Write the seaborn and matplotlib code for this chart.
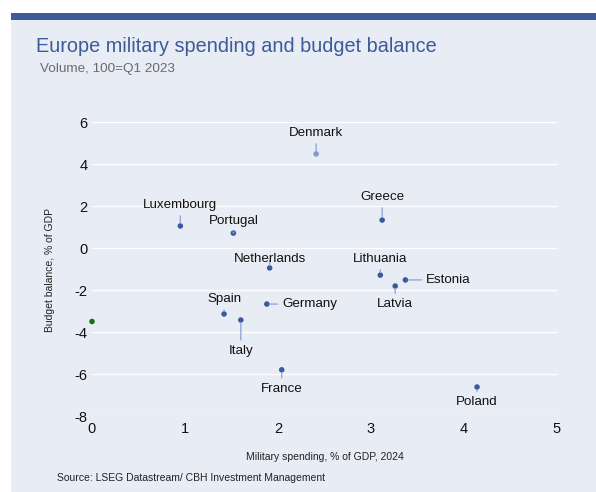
"""Europe military spending vs budget balance scatter."""
import matplotlib

matplotlib.use("Agg")
import matplotlib.pyplot as plt
import pandas as pd
import seaborn as sns
from matplotlib.patches import Rectangle

countries = ["", "Luxembourg", "Portugal", "Netherlands", "Spain", "Italy", "Germany",
             "France", "Denmark", "Greece", "Lithuania", "Estonia", "Latvia", "Poland"]
military_spending = [0.0, 0.95, 1.52, 1.91, 1.42, 1.60, 1.88,
                     2.04, 2.41, 3.12, 3.10, 3.37, 3.26, 4.14]
budget_balance = [-3.5, 1.05, 0.71, -0.95, -3.14, -3.43, -2.67,
                  -5.8, 4.48, 1.33, -1.29, -1.52, -1.81, -6.62]
groups = ["other", "main", "main", "main", "main", "main", "main",
          "main", "highlight", "main", "main", "main", "main", "main"]

# label offsets in points from each point, plus alignment
label_offsets = {
    "Luxembourg": (0, 15, "center"), "Portugal": (0, 8.5, "center"),
    "Netherlands": (0, 6.5, "center"), "Spain": (0, 10.5, "center"),
    "Italy": (0, -22, "center"), "Germany": (11, 0, "left"),
    "France": (0, -13.5, "center"), "Denmark": (0, 15, "center"),
    "Greece": (0, 16.5, "center"), "Lithuania": (0, 11.5, "center"),
    "Estonia": (15, 0, "left"), "Latvia": (0, -13, "center"),
    "Poland": (0, -11, "center"),
}

BG = "#e8ecf5"
BLUE = "#3a5aa0"
palette = {"main": BLUE, "highlight": "#7f9cd2", "other": "#167016"}

sns.set_theme(style="darkgrid", rc={
    "axes.facecolor": BG, "grid.color": "white", "grid.linewidth": 1.0,
    "axes.unicode_minus": False,
})
plt.rcParams["font.family"] = ["Liberation Sans", "DejaVu Sans"]

df = pd.DataFrame({"country": countries, "x": military_spending,
                   "y": budget_balance, "group": groups})

fig = plt.figure(figsize=(5.96, 4.92), dpi=100)
fig.patch.set_facecolor("white")
fig.patches.append(Rectangle((11 / 596, 0), 1, 1 - 13 / 492, transform=fig.transFigure,
                             facecolor=BG, edgecolor="none", zorder=-2))
fig.patches.append(Rectangle((11 / 596, 1 - 20 / 492), 1, 7 / 492, transform=fig.transFigure,
                             facecolor="#3d5a99", edgecolor="none", zorder=-1))

ax = fig.add_axes([92 / 596, 1 - 416 / 492, 465 / 596, 294 / 492])
sns.scatterplot(data=df, x="x", y="y", hue="group", palette=palette, s=16,
                edgecolor="none", legend=False, ax=ax, zorder=3, clip_on=False)

for _, row in df.iterrows():
    if row["country"] not in label_offsets:
        continue
    dx, dy, ha = label_offsets[row["country"]]
    ax.annotate(row["country"], (row["x"], row["y"]), xytext=(dx, dy),
                textcoords="offset points", ha=ha, va="center", fontsize=9.6,
                color="#111111",
                arrowprops=dict(arrowstyle="-", color="#93a9d6", lw=1,
                                shrinkA=1, shrinkB=2))

ax.set_xlim(0, 5)
ax.set_ylim(-8, 6)
ax.set_xticks(range(0, 6))
ax.set_yticks(range(-8, 7, 2))
ax.grid(axis="x", visible=False)
ax.tick_params(axis="both", labelsize=10.5, colors="#111111", length=0)
ax.tick_params(axis="y", pad=3)
ax.tick_params(axis="x", pad=4)
ax.set_xlabel("")
ax.set_ylabel("")
for s in ax.spines.values():
    s.set_visible(False)

fig.text(325 / 596, 1 - 457 / 492, "Military spending, % of GDP, 2024", ha="center",
         va="center", fontsize=7.5, color="#222222")
fig.text(50 / 596, 1 - 270 / 492, "Budget balance, % of GDP", ha="center", va="center",
         rotation=90, fontsize=7.5, color="#222222")
fig.text(36 / 596, 1 - 47 / 492, "Europe military spending and budget balance",
         ha="left", va="center", fontsize=14.3, color="#3d5a99")
fig.text(40 / 596, 1 - 69 / 492, "Volume, 100=Q1 2023", ha="left", va="center",
         fontsize=9.7, color="#6b6b6b")
fig.text(57 / 596, 1 - 478 / 492, "Source: LSEG Datastream/ CBH Investment Management",
         ha="left", va="center", fontsize=7.5, color="#222222")

fig.savefig("out.png", dpi=100)
